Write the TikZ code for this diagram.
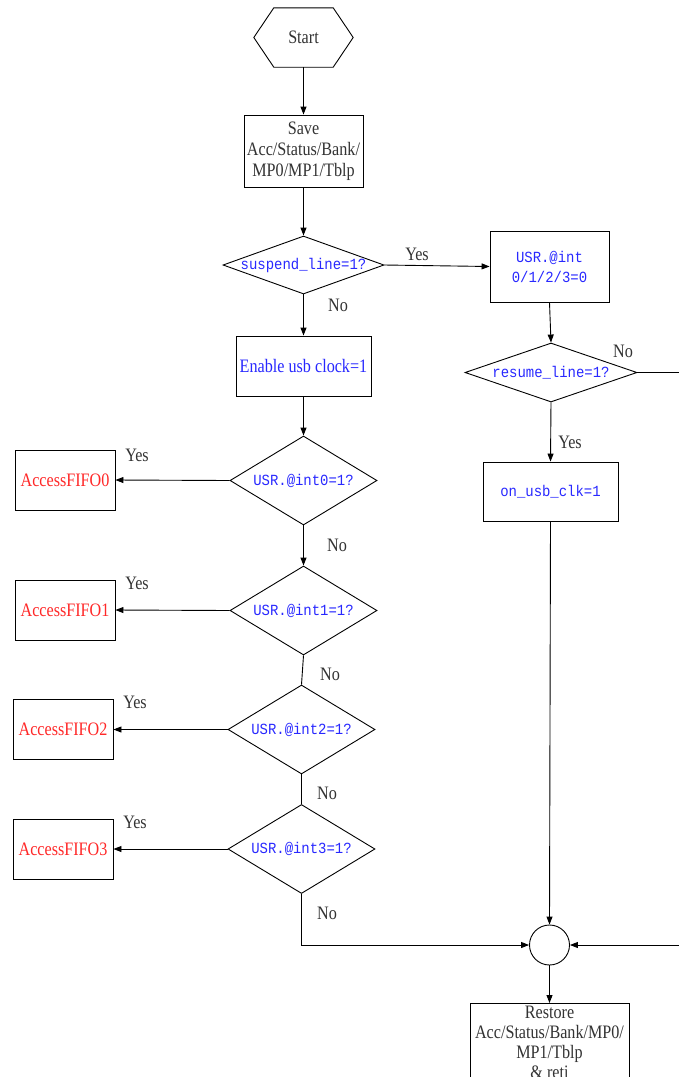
\documentclass[tikz,border=0pt]{standalone}
\usepackage{fontspec}
\setmainfont{Liberation Serif}[FakeStretch=0.85]
\newfontfamily\monof{Liberation Mono}[FakeStretch=0.9]
\usetikzlibrary{arrows.meta,shapes.geometric}
\definecolor{txt}{HTML}{333333}
\definecolor{bl}{HTML}{2828FF}
\definecolor{rd}{HTML}{FF2828}
\tikzset{
  every node/.style={font=\fontsize{19}{21}\selectfont, text=txt, inner sep=0pt, align=center},
  box/.style={draw, rectangle, line width=0.9pt},
  dia/.style={draw, diamond, line width=0.9pt, inner sep=-3pt, font=\monof\fontsize{15.5}{20}\selectfont, text=bl},
  mono/.style={font=\monof\fontsize{15.5}{20}\selectfont, text=bl},
  redtxt/.style={text=rd},
  conn/.style={line width=0.9pt, -{Triangle[length=8pt,width=6pt]}},
  plainline/.style={line width=0.9pt}
}
\begin{document}
\begin{tikzpicture}[x=1pt,y=-1pt]
\useasboundingbox (0,0) rectangle (679,1077);
\clip (0,0) rectangle (679,1077);
\fill[white] (0,0) rectangle (679,1077);

% nodes
\node[minimum width=99pt, minimum height=59pt] (start) at (303.5,37.5) {Start};
\draw[line width=0.9pt] ([xshift=20pt]start.north west) -- ([xshift=-20pt]start.north east) -- (start.east)
  -- ([xshift=-20pt]start.south east) -- ([xshift=20pt]start.south west) -- (start.west) -- cycle;

\node[box, minimum width=119pt, minimum height=72pt] (save) at (303.5,151) {Save\\Acc/Status/Bank/\\MP0/MP1/Tblp};
\node[dia, aspect=2.78, minimum width=161pt, minimum height=58pt] (susp) at (303.5,265) {suspend\_line=1?};
\node[box, mono, minimum width=119pt, minimum height=71pt] (usr) at (549.5,266.5) {USR.@int\\0/1/2/3=0};
\node[box, text=bl, minimum width=135pt, minimum height=60pt] (enable) at (303.5,366) {Enable usb clock=1};
\node[dia, aspect=2.92, minimum width=172pt, minimum height=59pt] (resume) at (551,372.5) {resume\_line=1?};
\node[box, mono, minimum width=135pt, minimum height=59pt] (onusb) at (550.5,491.5) {on\_usb\_clk=1};

\node[dia, aspect=1.65, minimum width=147pt, minimum height=89pt] (int0) at (303.5,480.5) {USR.@int0=1?};
\node[dia, aspect=1.65, minimum width=147pt, minimum height=89pt] (int1) at (303.5,610.5) {USR.@int1=1?};
\node[dia, aspect=1.65, minimum width=147pt, minimum height=89pt] (int2) at (301.5,729.5) {USR.@int2=1?};
\node[dia, aspect=1.65, minimum width=147pt, minimum height=89pt] (int3) at (301.5,849) {USR.@int3=1?};

\node[box, redtxt, minimum width=100pt, minimum height=60pt] (fifo0) at (65,480) {AccessFIFO0};
\node[box, redtxt, minimum width=100pt, minimum height=60pt] (fifo1) at (65,610) {AccessFIFO1};
\node[box, redtxt, minimum width=100pt, minimum height=60pt] (fifo2) at (63,729.5) {AccessFIFO2};
\node[box, redtxt, minimum width=100pt, minimum height=60pt] (fifo3) at (63,849) {AccessFIFO3};

\node[draw, circle, line width=0.9pt, minimum size=40pt] (junc) at (549.5,945) {};
\node[box, anchor=north, minimum width=159pt, minimum height=78pt, font=\fontsize{19}{20}\selectfont] (restore) at (549.5,1003)
  {Restore\\Acc/Status/Bank/MP0/\\MP1/Tblp\\\&\ reti};

\coordinate (rtop) at (692,372.5);

% labels
\node (l1) at (417,254) {Yes};
\node (l2) at (338,305) {No};
\node (l3) at (623,351) {No};
\node (l4) at (570,442) {Yes};
\node (l5) at (137,455) {Yes};
\node (l6) at (337,545) {No};
\node (l7) at (137,583) {Yes};
\node (l8) at (330,674) {No};
\node (l9) at (135,702) {Yes};
\node (l10) at (327,793) {No};
\node (l11) at (135,822) {Yes};
\node (l12) at (327,913) {No};

% connectors
\draw[conn] (start) -- (save);
\draw[conn] (save) -- (susp);
\draw[conn] (susp.east) -- (usr.west);
\draw[conn] (susp.south) -- (enable.north);
\draw[conn] (usr.south) -- (resume.north);
\draw[conn] (resume.east) -- (rtop) |- (junc.east);
\draw[conn] (resume.south) -- (onusb.north);
\draw[conn] (onusb.south) -- (junc.north);
\draw[conn] (enable.south) -- (int0.north);
\draw[conn] (int0.west) -- (fifo0.east);
\draw[conn] (int0.south) -- (int1.north);
\draw[conn] (int1.west) -- (fifo1.east);
\draw[plainline] (int1.south) -- (int2.north);
\draw[conn] (int2.west) -- (fifo2.east);
\draw[plainline] (int2.south) -- (int3.north);
\draw[conn] (int3.west) -- (fifo3.east);
\draw[conn] (int3.south) |- (junc.west);
\draw[conn] (junc.south) -- (restore.north);
\end{tikzpicture}
\end{document}
